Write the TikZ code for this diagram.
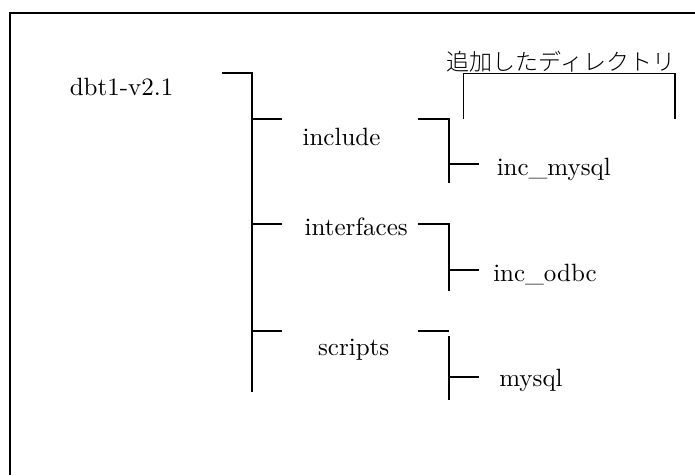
\documentclass[tikz,border=0pt]{standalone}
\usepackage{fontspec}
\setmainfont{lmroman10-regular.otf}
\newfontfamily\jpfont{Noto Sans CJK JP}[UprightFont=* Light]
\begin{document}
\begin{tikzpicture}[x=1pt,y=-1pt,
  lbl/.style={inner sep=0pt, anchor=base, font=\fontsize{25}{30}\selectfont},
  jlbl/.style={inner sep=0pt, font=\jpfont\fontsize{23}{27}\selectfont},
  tree/.style={line width=2pt},
  frameline/.style={line width=2pt},
  brk/.style={line width=1.6pt}]
\useasboundingbox (0,0) rectangle (695,475);

% outer frame (only top and left edges fall inside the page)
\coordinate (fbl) at (10,475);
\coordinate (ftl) at (10,13);
\coordinate (ftr) at (695,13);
\draw[frameline] (fbl) -- (ftl) -- (ftr);

% labels
\node[lbl] (root) at (121.5,95) {dbt1-v2.1};
\node[lbl] (inc)  at (341.5,145.3) {include};
\node[lbl] (intf) at (356.2,235) {interfaces};
\node[lbl] (scr)  at (353.7,355.7) {scripts};
\node[lbl] (incmysql) at (553.8,175) {inc\_mysql};
\node[lbl] (incodbc)  at (545,281.7) {inc\_odbc};
\node[lbl] (mysql)    at (531,386.7) {mysql};
\node[jlbl] (added) at (561,62) {追加したディレクトリ};

% level-1 tree
\coordinate (r0) at (222,73);
\coordinate (r1) at (252,73);
\coordinate (r2) at (252,392);
\coordinate (b1) at (252,119);
\coordinate (b1e) at (282,119);
\coordinate (b2) at (252,224);
\coordinate (b2e) at (282,224);
\coordinate (b3) at (252,331);
\coordinate (b3e) at (282,331);
\draw[tree] (r0) -- (r1) -- (r2);
\draw[tree] (b1) -- (b1e);
\draw[tree] (b2) -- (b2e);
\draw[tree] (b3) -- (b3e);

% include subtree
\coordinate (i0) at (418,119);
\coordinate (i1) at (449,119);
\coordinate (i2) at (449,183);
\coordinate (ib) at (449,164);
\coordinate (ibe) at (479,164);
\draw[tree] (i0) -- (i1) -- (i2);
\draw[tree] (ib) -- (ibe);

% interfaces subtree
\coordinate (f0) at (418,224);
\coordinate (f1) at (449,224);
\coordinate (f2) at (449,291);
\coordinate (fb) at (449,270);
\coordinate (fbe) at (479,270);
\draw[tree] (f0) -- (f1) -- (f2);
\draw[tree] (fb) -- (fbe);

% scripts subtree
\coordinate (s0) at (418,331);
\coordinate (s1) at (449,331);
\coordinate (s2) at (449,336);
\coordinate (s3) at (449,400);
\coordinate (sb) at (449,377);
\coordinate (sbe) at (479,377);
\draw[tree] (s0) -- (s1);
\draw[tree] (s2) -- (s3);
\draw[tree] (sb) -- (sbe);

% bracket under the caption
\coordinate (k0) at (463.5,119);
\coordinate (k1) at (463.5,73.5);
\coordinate (k2) at (675,73.5);
\coordinate (k3) at (675,119);
\draw[brk] (k0) -- (k1) -- (k2) -- (k3);
\end{tikzpicture}
\end{document}
